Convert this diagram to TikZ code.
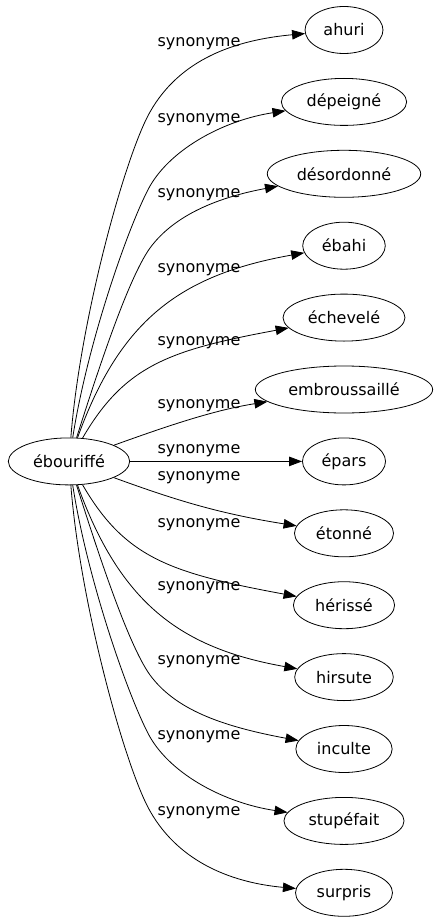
\documentclass[tikz,border=0pt]{standalone}
\usepackage{fontspec}
\setmainfont{DejaVu Sans}
\usepackage{tikz}
\usetikzlibrary{calc, arrows.meta, shapes.geometric, positioning}
\tikzstyle{word}=[draw, ellipse, minimum height=47pt, inner xsep=7pt, inner ysep=2pt]
\tikzstyle{rel}=[inner sep=0pt]

\begin{document}
\begin{tikzpicture}[x=1pt,y=-1pt,node distance=71.9pt,>={Triangle[length=13pt,width=9.5pt]},
    line width=0.8pt,font=\fontsize{16pt}{19pt}\selectfont]
      \useasboundingbox (0,0) rectangle (437,923);

      \node [word] (ahuri) at (344,30) {ahuri};
      \node [word] (depeigne) [below of=ahuri] {dépeigné};
      \node [word] (desordonne) [below of=depeigne] {désordonné};
      \node [word] (ebahi) [below of=desordonne] {ébahi};
      \node [word] (echevele) [below of=ebahi] {échevelé};
      \node [word] (embrou) [below of=echevele] {embroussaillé};
      \node [word] (epars) [below of=embrou] {épars};
      \node [word] (etonne) [below of=epars] {étonné};
      \node [word] (herisse) [below of=etonne] {hérissé};
      \node [word] (hirsute) [below of=herisse] {hirsute};
      \node [word] (inculte) [below of=hirsute] {inculte};
      \node [word] (stupefait) [below of=inculte] {stupéfait};
      \node [word] (surpris) [below of=stupefait] {surpris};

      \node [word] (ebo) [left of=epars, node distance=275pt] {ébouriffé};

      % labels
      \node [rel] (l1) at (199,43.5) {synonyme};
      \node [rel] (l2) at (199,120) {synonyme};
      \node [rel] (l3) at (199,195) {synonyme};
      \node [rel] (l4) at (199,270) {synonyme};
      \node [rel] (l5) at (199,343) {synonyme};
      \node [rel] (l6) at (199,406) {synonyme};
      \node [rel] (l7) at (199,451) {synonyme};
      \node [rel] (l8) at (199,478) {synonyme};
      \node [rel] (l9) at (199,525) {synonyme};
      \node [rel] (l10) at (199,588) {synonyme};
      \node [rel] (l11) at (199,662) {synonyme};
      \node [rel] (l12) at (199,737) {synonyme};
      \node [rel] (l13) at (199,813) {synonyme};

      \draw[->] (ebo) .. controls (80,320) and (125,156) .. (150,112)
                      .. controls (180,59) and (235,40) .. (ahuri);
      \draw[->] (ebo) .. controls (88,340) and (130,222) .. (150,186)
                      .. controls (172,148) and (225,120) .. (depeigne);
      \draw[->] (ebo) .. controls (95,380) and (127,280) .. (150,248)
                      .. controls (175,214) and (220,197) .. (desordonne);
      \draw[->] (ebo) .. controls (120,320) and (180,275) .. (ebahi);
      \draw[->] (ebo) .. controls (125,365) and (170,350) .. (echevele);
      \draw[->] (ebo) .. controls (170,425) and (215,410) .. (embrou);
      \path[->] (ebo) edge node {} (epars);
      \draw[->] (ebo) .. controls (170,498) and (215,513) .. (etonne);
      \draw[->] (ebo) .. controls (125,558) and (170,573) .. (herisse);
      \draw[->] (ebo) .. controls (120,603) and (180,648) .. (hirsute);
      \draw[->] (ebo) .. controls (95,543) and (127,643) .. (150,675)
                      .. controls (175,709) and (220,726) .. (inculte);
      \draw[->] (ebo) .. controls (88,583) and (130,701) .. (150,737)
                      .. controls (172,775) and (225,803) .. (stupefait);
      \draw[->] (ebo) .. controls (80,603) and (125,767) .. (150,811)
                      .. controls (180,864) and (235,883) .. (surpris);
  \end{tikzpicture}
\end{document}
